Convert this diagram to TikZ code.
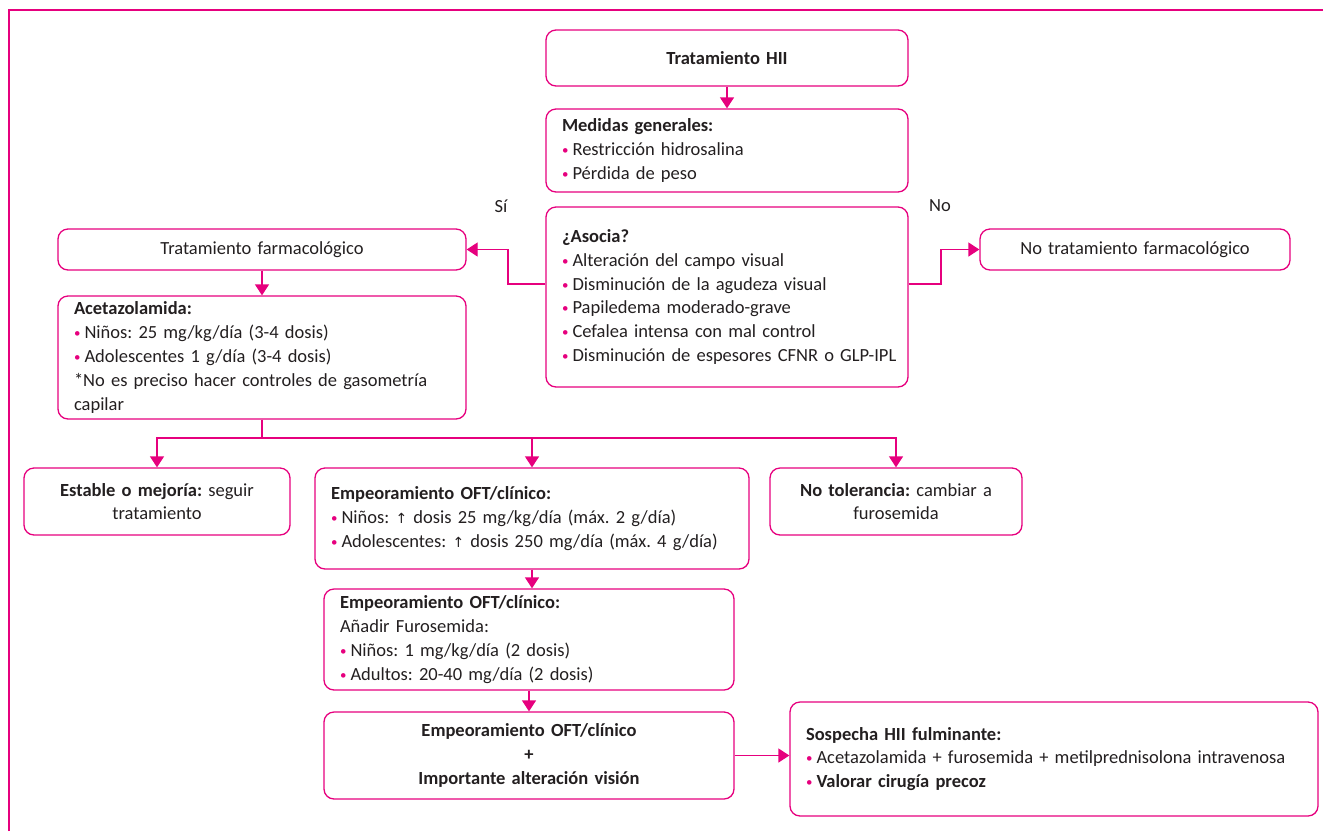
\documentclass[tikz,border=0pt]{standalone}
\usepackage{fontspec}
\setmainfont{Carlito}[WordSpace=0.8]
\newfontfamily\symf{DejaVu Sans}
\usetikzlibrary{arrows.meta}
\definecolor{pk}{RGB}{230,0,126}
\definecolor{tx}{RGB}{35,31,32}
\frenchspacing
\newcommand{\bul}{{\color{pk}\raisebox{0.12ex}{\scalebox{0.7}{\textbullet}}}\hspace{0.22em}}
\newcommand{\up}{{\symf\fontsize{14}{14}\selectfont ↑}}
\begin{document}
\begin{tikzpicture}[x=1pt,y=-1pt,
  font=\fontsize{18.5}{23.8}\selectfont,
  box/.style={draw=pk, line width=1.3pt, rounded corners=10pt, inner xsep=16pt, inner ysep=0pt, text=tx},
  lbox/.style={box, align=left},
  cbox/.style={box, align=center},
  arr/.style={draw=pk, line width=1.3pt, -{Triangle[width=14pt,length=11pt]}},
  conn/.style={draw=pk, line width=1.3pt},
  lab/.style={text=tx, inner sep=0pt}]
\useasboundingbox (0,0) rectangle (1323,831);
\draw[pk, line width=2.2pt] (9,831) -- (9,10) -- (1323,10);

\node[cbox, minimum width=362pt, minimum height=56pt, text width=330pt] (hii) at (727,58) {\textbf{Tratamiento HII}};
\node[lbox, minimum width=362pt, minimum height=83pt, text width=330pt] (med) at (727,150.5)
  {\textbf{Medidas generales:}\\ \bul Restricción hidrosalina\\ \bul Pérdida de peso};
\node[lbox, minimum width=362pt, minimum height=180pt, text width=330pt] (aso) at (727,297)
  {\textbf{¿Asocia?}\\ \bul Alteración del campo visual\\ \bul Disminución de la agudeza visual\\ \bul Papiledema moderado-grave\\ \bul Cefalea intensa con mal control\\ \mbox{\bul Disminución de espesores CFNR o GLP-IPL}};
\node[cbox, minimum width=408pt, minimum height=41pt, text width=376pt] (farm) at (262,249.5) {Tratamiento farmacológico};
\node[cbox, minimum width=310pt, minimum height=41pt, text width=278pt] (notrat) at (1135,249.5) {No tratamiento farmacológico};
\node[lbox, minimum width=408pt, minimum height=123pt, text width=376pt] (acet) at (262,357.5)
  {\textbf{Acetazolamida:}\\ \bul Niños: 25 mg/kg/día (3-4 dosis)\\ \bul Adolescentes 1 g/día (3-4 dosis)\\{}*No es preciso hacer controles de gasometría\\ capilar};
\node[cbox, minimum width=266pt, minimum height=67pt, text width=234pt] (est) at (157,501.5)
  {\textbf{Estable o mejoría:} seguir\\ tratamiento};
\node[lbox, minimum width=434pt, minimum height=101pt, text width=402pt] (emp1) at (532,518.5)
  {\textbf{Empeoramiento OFT/clínico:}\\ \mbox{\bul Niños: \up{} dosis 25 mg/kg/día (máx. 2 g/día)}\\ \mbox{\bul Adolescentes: \up{} dosis 250 mg/día (máx. 4 g/día)}};
\node[cbox, minimum width=252pt, minimum height=67pt, text width=220pt] (notol) at (896,501.5)
  {\textbf{No tolerancia:} cambiar a\\ furosemida};
\node[lbox, minimum width=410pt, minimum height=101pt, text width=378pt] (emp2) at (529,639.5)
  {\textbf{Empeoramiento OFT/clínico:}\\ Añadir Furosemida:\\ \bul Niños: 1 mg/kg/día (2 dosis)\\ \bul Adultos: 20-40 mg/día (2 dosis)};
\node[cbox, minimum width=410pt, minimum height=87pt, text width=378pt, font=\fontsize{18.5}{23.8}\selectfont\bfseries] (emp3) at (529,755.5)
  {Empeoramiento OFT/clínico\\ +\\ Importante alteración visión};
\node[lbox, minimum width=528pt, minimum height=114pt, text width=496pt] (sosp) at (1054,759)
  {\textbf{Sospecha HII fulminante:}\\ \mbox{\bul Acetazolamida + furosemida + metilprednisolona intravenosa}\\ \bul \textbf{Valorar cirugía precoz}};

\node[lab] (si) at (501,206) {Sí};
\node[lab] (no) at (940,206) {No};

\coordinate (sL) at (508,284);
\coordinate (sR) at (941,284);
\coordinate (br) at (262,438);

\draw[arr] (hii.south) -- (med.north);
\draw[arr] (aso.west |- sL) -- (sL) |- (farm.east);
\draw[arr] (aso.east |- sR) -- (sR) |- (notrat.west);
\draw[arr] (farm.south) -- (acet.north);
\draw[conn] (acet.south) -- (br);
\draw[arr] (br) -| (est.north);
\draw[arr] (br) -| (emp1.north);
\draw[arr] (br) -| (notol.north);
\draw[arr] (emp1.south) -- (emp1.south |- emp2.north);
\draw[arr] (emp2.south) -- (emp2.north |- emp3.north);
\draw[arr] (emp3.east) -- (emp3.east -| sosp.west);
\end{tikzpicture}
\end{document}
